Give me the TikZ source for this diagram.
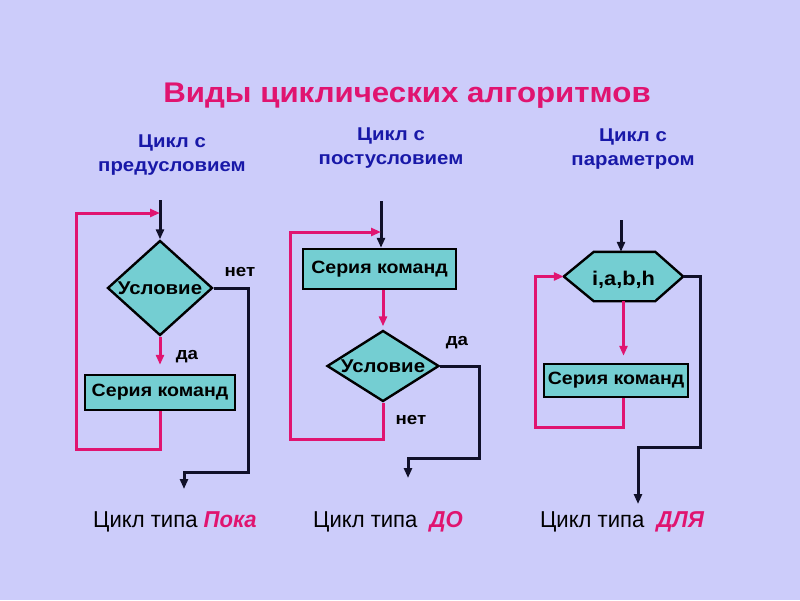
\documentclass[tikz,border=0pt]{standalone}
\usepackage{fontspec}
\setmainfont{Liberation Sans}
\newfontfamily\widefont[FakeStretch=1.1]{Liberation Sans}
\newfontfamily\capfont[FakeStretch=0.96]{Liberation Sans}
\usetikzlibrary{shapes.geometric,arrows.meta}
\definecolor{bgc}{RGB}{204,204,250}
\definecolor{pnkc}{RGB}{224,20,112}
\definecolor{bluc}{RGB}{24,24,168}
\definecolor{filc}{RGB}{116,206,210}
\definecolor{blkc}{RGB}{16,16,40}
\tikzset{
  tipx/.tip={Triangle[length=10pt,width=8pt]},
  blk/.style={draw=blkc,line width=3pt,-tipx},
  pnk/.style={draw=pnkc,line width=3pt,-tipx},
  dia/.style={diamond,draw=black,line width=2.4pt,fill=filc,inner sep=0pt},
  cmd/.style={rectangle,draw=black,line width=2.4pt,fill=filc,inner sep=0pt,
    font=\widefont\bfseries\fontsize{17.8}{20}\selectfont},
  lbl/.style={font=\widefont\bfseries\fontsize{17}{19}\selectfont,text=black},
  dlbl/.style={font=\widefont\bfseries\fontsize{18.5}{20}\selectfont,text=black},
  sub/.style={font=\widefont\bfseries\fontsize{18.5}{24.5}\selectfont,text=bluc,align=center},
  captxt/.style={font=\capfont\fontsize{23}{25}\selectfont,text=black}
}
\newcommand{\hlt}[1]{\textcolor{pnkc}{\bfseries\itshape #1}}
\begin{document}
\begin{tikzpicture}[x=1pt,y=-1pt]
\useasboundingbox (0,0) rectangle (800,600);
\fill[bgc] (0,0) rectangle (800,600);

% title and subtitles
\node[font=\widefont\bfseries\fontsize{28.4}{32}\selectfont,text=pnkc] (title) at (407,96) {Виды циклических алгоритмов};
\node[sub] (t1) at (172,155) {Цикл с\\предусловием};
\node[sub] (t2) at (391,148) {Цикл с\\постусловием};
\node[sub] (t3) at (633,149) {Цикл с\\параметром};

% ---------- diagram 1 ----------
\coordinate (s1) at (160,200);
\coordinate (j1) at (160,213);
\coordinate (e1) at (184,489);
\node[dia, minimum height=95pt, minimum width=105pt, label={[dlbl]center:Условие}] (d1) at (160,288) {};
\node[cmd, minimum width=150pt, minimum height=35pt] (b1) at (160,392.5) {Серия команд};
\draw[blk] (s1) -- (d1.north);
\draw[blk] (d1.east) -| (248,472) -| (e1);
\draw[pnk, shorten >=9pt] (d1.south) -- (b1.north);
\draw[pnk] (b1.south) -- (160,449) -| (76,213) -- (j1);
\node[lbl] (n1) at (240,272) {нет};
\node[lbl] (y1) at (187,357) {да};

% ---------- diagram 2 ----------
\coordinate (s2) at (381,201);
\coordinate (j2) at (381,232);
\coordinate (e2) at (408,478);
\node[cmd, minimum width=153pt, minimum height=40pt] (b2) at (379.5,269) {Серия команд};
\node[dia, minimum height=71pt, minimum width=112pt, label={[dlbl]center:Условие}] (d2) at (383,366) {};
\draw[blk] (s2) -- (b2.north -| s2);
\draw[pnk, shorten >=3pt] (b2.south -| d2.north) -- (d2.north);
\draw[blk] (d2.east) -| (479,458) -| (e2);
\draw[pnk] (d2.south) -- (383,439) -| (290,232) -- (j2);
\node[lbl] (y2) at (457,343) {да};
\node[lbl] (n2) at (411,420) {нет};

% ---------- diagram 3 ----------
\coordinate (s3) at (621,220);
\coordinate (e3) at (638,504);
\node[inner sep=0pt, minimum width=119pt, minimum height=49pt] (h3) at (623.5,276.5) {};
\fill[filc,draw=black,line width=2.4pt,line join=miter]
  (h3.west) -- ([xshift=30pt]h3.north west) -- ([xshift=-28pt]h3.north east)
  -- (h3.east) -- ([xshift=-28pt]h3.south east) -- ([xshift=30pt]h3.south west) -- cycle;
\node[font=\widefont\bfseries\fontsize{19.8}{22}\selectfont] (h3t) at ([yshift=-3pt]h3.center) {i,a,b,h};
\node[cmd, minimum width=144pt, minimum height=33pt] (b3) at (616,380.5) {Серия команд};
\draw[blk] (s3) -- (s3 |- h3.north);
\draw[pnk, shorten >=7pt] (h3.south) -- (b3.north -| h3.south);
\draw[pnk] (b3.south -| h3.south) -- (623.5,427) -| (535,276.5) -- (h3.west);
\draw[blk] (h3.east) -| (700,447) -| (e3);

% ---------- captions ----------
\node[captxt] (c1) at (175,522) {Цикл типа \hlt{Пока}};
\node[captxt] (c2) at (388,522) {Цикл типа\ \ \hlt{ДО}};
\node[captxt] (c3) at (622,522) {Цикл типа\ \ \hlt{ДЛЯ}};
\end{tikzpicture}
\end{document}
